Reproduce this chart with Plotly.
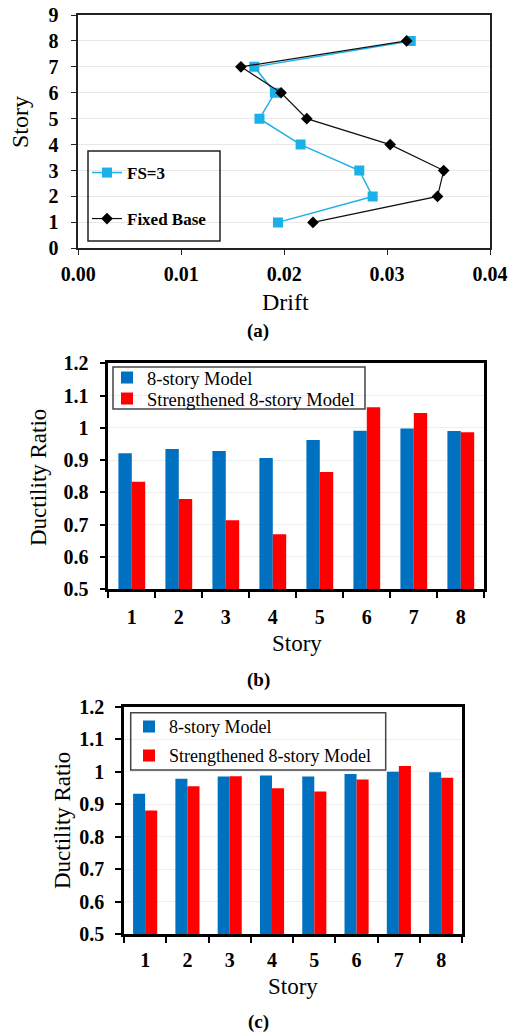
import plotly.graph_objects as go

# ---------- data ----------
stories = [1, 2, 3, 4, 5, 6, 7, 8]
drift_fs3 = [0.0194, 0.0286, 0.0273, 0.0216, 0.0176, 0.0191, 0.0171, 0.0323]
drift_fixed = [0.0228, 0.0349, 0.0355, 0.0303, 0.0222, 0.0197, 0.0158, 0.0319]

story_cats = ["1", "2", "3", "4", "5", "6", "7", "8"]
duct_b_model = [0.921, 0.934, 0.928, 0.906, 0.962, 0.991, 0.998, 0.990]
duct_b_strength = [0.833, 0.779, 0.713, 0.670, 0.863, 1.064, 1.046, 0.986]
duct_c_model = [0.932, 0.978, 0.985, 0.988, 0.985, 0.993, 1.000, 0.998]
duct_c_strength = [0.880, 0.955, 0.986, 0.949, 0.939, 0.976, 1.017, 0.981]

drift_ticks = [0, 0.01, 0.02, 0.03, 0.04]
drift_ticktext = ["0.00", "0.01", "0.02", "0.03", "0.04"]
story_ticks = [0, 1, 2, 3, 4, 5, 6, 7, 8, 9]
duct_ticks = [0.5, 0.6, 0.7, 0.8, 0.9, 1.0, 1.1, 1.2]
duct_ticktext = ["0.5", "0.6", "0.7", "0.8", "0.9", "1", "1.1", "1.2"]

W, H = 510, 1035
FONT = "Liberation Serif"
BLUE_LINE = "#1CB0E8"
BAR_BLUE = "#0070C0"
BAR_RED = "#FF0000"


def px_x(x):
    return x / W


def px_y(y):
    return 1 - y / H


fig = go.Figure()

# ---------- panel (a) ----------
fig.add_trace(go.Scatter(
    x=drift_fs3, y=stories, mode="lines+markers", name="FS=3",
    line=dict(color=BLUE_LINE, width=1.5),
    marker=dict(symbol="square", size=10, color=BLUE_LINE),
    xaxis="x", yaxis="y", legend="legend"))
fig.add_trace(go.Scatter(
    x=drift_fixed, y=stories, mode="lines+markers", name="Fixed Base",
    line=dict(color="#111111", width=1.2),
    marker=dict(symbol="diamond", size=9, color="#000000"),
    xaxis="x", yaxis="y", legend="legend2"))

# ---------- panel (b) ----------
fig.add_trace(go.Bar(x=story_cats, y=duct_b_model, name="8-story Model",
                     marker=dict(color=BAR_BLUE, line=dict(width=0)),
                     xaxis="x2", yaxis="y2", legend="legend3"))
fig.add_trace(go.Bar(x=story_cats, y=duct_b_strength, name="Strengthened 8-story Model",
                     marker=dict(color=BAR_RED, line=dict(width=0)),
                     xaxis="x2", yaxis="y2", legend="legend4"))

# ---------- panel (c) ----------
fig.add_trace(go.Bar(x=story_cats, y=duct_c_model, name="8-story Model",
                     marker=dict(color=BAR_BLUE, line=dict(width=0)),
                     xaxis="x3", yaxis="y3", legend="legend5"))
fig.add_trace(go.Bar(x=story_cats, y=duct_c_strength, name="Strengthened 8-story Model",
                     marker=dict(color=BAR_RED, line=dict(width=0)),
                     xaxis="x3", yaxis="y3", legend="legend6"))

common_lines = dict(showline=True, mirror=True, ticks="outside", zeroline=False,
                    automargin=False)

# domains from pixel positions
dom_a_x = [px_x(78.3), px_x(490)]
dom_a_y = [px_y(248.3), px_y(15)]
dom_b_x = [px_x(108.3), px_x(484.3)]
dom_b_y = [px_y(589), px_y(363.3)]
dom_c_x = [px_x(124), px_x(462.3)]
dom_c_y = [px_y(934), px_y(706.7)]

bold_tick = dict(family=FONT, size=20, color="#000", weight="bold")


def leg(x_text, y_center, size, bold=False):
    # legend item text starts 40px right of the legend x position
    return dict(x=px_x(x_text - 40), y=px_y(y_center), xanchor="left", yanchor="middle",
                bgcolor="rgba(0,0,0,0)", borderwidth=0, itemwidth=30,
                font=dict(family=FONT, size=size, color="#000",
                          weight="bold" if bold else "normal"))


fig.update_layout(
    template="none",
    width=W, height=H,
    margin=dict(l=0, r=0, t=0, b=0, pad=0),
    paper_bgcolor="white", plot_bgcolor="white",
    barmode="group", bargap=0.43, bargroupgap=0,
    font=dict(family=FONT, color="#000000"),
    xaxis=dict(domain=dom_a_x, anchor="y", range=[0, 0.04],
               tickvals=drift_ticks, ticktext=drift_ticktext,
               tickfont=bold_tick,
               linecolor="#222222", linewidth=1.5, ticklen=5, tickcolor="#222222",
               showgrid=False, ticklabelstandoff=2, **common_lines),
    yaxis=dict(domain=dom_a_y, anchor="x", range=[0, 9],
               tickvals=story_ticks,
               tickfont=bold_tick,
               linecolor="#222222", linewidth=1.5, ticklen=6, tickcolor="#222222",
               showgrid=True, gridcolor="#e8e8e8", gridwidth=1, ticklabelstandoff=8,
               **common_lines),
    xaxis2=dict(domain=dom_b_x, anchor="y2", type="category",
                tickson="boundaries", ticklen=6, tickwidth=1.5, tickcolor="#000",
                tickfont=bold_tick,
                linecolor="#000000", linewidth=2.5, showgrid=False,
                ticklabelstandoff=8, **common_lines),
    yaxis2=dict(domain=dom_b_y, anchor="x2", range=[0.5, 1.2],
                tickvals=duct_ticks, ticktext=duct_ticktext,
                tickfont=bold_tick,
                linecolor="#000000", linewidth=2.5, ticklen=6, tickwidth=1.5, tickcolor="#000",
                showgrid=True, gridcolor="#eeeeee", gridwidth=1, ticklabelstandoff=7,
                **common_lines),
    xaxis3=dict(domain=dom_c_x, anchor="y3", type="category",
                tickson="boundaries", ticklen=6, tickwidth=1.5, tickcolor="#000",
                tickfont=bold_tick,
                linecolor="#000000", linewidth=2.5, showgrid=False,
                ticklabelstandoff=6, **common_lines),
    yaxis3=dict(domain=dom_c_y, anchor="x3", range=[0.5, 1.2],
                tickvals=duct_ticks, ticktext=duct_ticktext,
                tickfont=bold_tick,
                linecolor="#000000", linewidth=2.5, ticklen=6, tickwidth=1.5, tickcolor="#000",
                showgrid=True, gridcolor="#eeeeee", gridwidth=1, ticklabelstandoff=7,
                **common_lines),
    legend=leg(127, 173, 17, bold=True),
    legend2=leg(127, 219, 17, bold=True),
    legend3=leg(147, 378, 18.5),
    legend4=leg(147, 399, 18.5),
    legend5=leg(169, 726.7, 18),
    legend6=leg(169, 755.7, 18),
    showlegend=True,
)

# legend boxes
fig.add_shape(type="rect", xref="paper", yref="paper",
              x0=px_x(88), x1=px_x(220), y0=px_y(241), y1=px_y(151),
              line=dict(color="#222222", width=1.5), fillcolor="rgba(0,0,0,0)")
fig.add_shape(type="rect", xref="paper", yref="paper",
              x0=px_x(113), x1=px_x(365), y0=px_y(409), y1=px_y(367),
              line=dict(color="#444444", width=1.5), fillcolor="rgba(0,0,0,0)")
fig.add_shape(type="rect", xref="paper", yref="paper",
              x0=px_x(130.7), x1=px_x(385.7), y0=px_y(770), y1=px_y(712.7),
              line=dict(color="#444444", width=1.5), fillcolor="rgba(0,0,0,0)")


def label(text, x, y, size, bold=False, angle=0):
    fig.add_annotation(text=text, x=px_x(x), y=px_y(y), xref="paper", yref="paper",
                       xanchor="center", yanchor="middle", showarrow=False,
                       textangle=angle,
                       font=dict(family=FONT, size=size, color="#000",
                                 weight="bold" if bold else "normal"))


label("Story", 20, 122, 24, angle=-90)
label("Drift", 285, 302, 24)
label("(a)", 258, 331, 19, bold=True)

label("Ductility Ratio", 38, 478, 23, angle=-90)
label("Story", 297, 643, 23)
label("(b)", 258, 680, 19, bold=True)

label("Ductility Ratio", 62, 821, 23, angle=-90)
label("Story", 293, 986, 23)
label("(c)", 258, 1022, 19, bold=True)

# remove the browser's default 8px body margin so the 510x1035 figure fills the window
fig.write_html("out.html",
               config={"displayModeBar": False},
               post_script="document.body.style.margin='0';"
                           "document.body.style.overflow='hidden';")
